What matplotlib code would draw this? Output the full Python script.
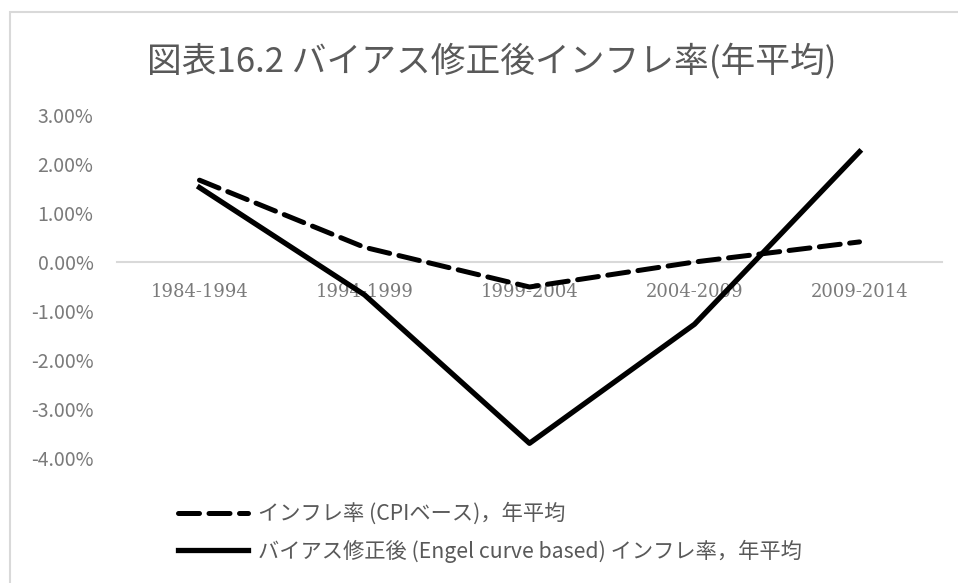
import matplotlib.pyplot as plt
from matplotlib.patches import Rectangle
from matplotlib.ticker import FuncFormatter

plt.rcParams['font.family'] = ['Noto Sans CJK JP', 'DejaVu Sans']

periods = ['1984-1994', '1994-1999', '1999-2004', '2004-2009', '2009-2014']
cpi_inflation = [1.67, 0.30, -0.51, 0.00, 0.41]
engel_inflation = [1.52, -0.67, -3.70, -1.27, 2.25]

label_cpi = 'インフレ率 (CPIベース)，年平均'
label_engel = 'バイアス修正後 (Engel curve based) インフレ率，年平均'
title = '図表16.2 バイアス修正後インフレ率(年平均)'

gray = '#595959'
light = '#7a7a7a'

fig = plt.figure(figsize=(9.58, 5.83), dpi=100)
fig.patches.append(Rectangle((10/958, -0.1), 1.2, 1 - 12/583 + 0.1,
                             transform=fig.transFigure, fill=False,
                             edgecolor='#d9d9d9', linewidth=1.5))

ax = fig.add_axes([117/958, 1 - 458/583, 825/958, 343/583])
x = range(len(periods))
ax.plot(x, cpi_inflation, color='black', lw=3.6, dashes=(4.2, 1.9),
        dash_capstyle='round', label=label_cpi)
ax.plot(x, engel_inflation, color='black', lw=3.8, label=label_engel)

ax.set_xlim(-0.5, len(periods) - 0.5)
ax.set_ylim(-4, 3)
ax.set_yticks([3, 2, 1, 0, -1, -2, -3, -4])
ax.yaxis.set_major_formatter(FuncFormatter(lambda v, p: f'{v:.2f}%'))
ax.set_xticks(list(x))
ax.set_xticklabels(periods)

for s in ['top', 'right', 'left']:
    ax.spines[s].set_visible(False)
ax.spines['bottom'].set_position(('data', 0))
ax.spines['bottom'].set_color('#d9d9d9')
ax.spines['bottom'].set_linewidth(1.5)
ax.spines['bottom'].set_zorder(0)
ax.tick_params(axis='x', length=0, pad=15, labelsize=13, labelcolor=light)
ax.tick_params(axis='y', length=0, pad=17, labelsize=14, labelcolor=light)
for lab in ax.get_xticklabels():
    lab.set_fontfamily('DejaVu Serif')
    lab.set_fontsize(13)

fig.text(492/958, 1 - 62/583, title, ha='center', va='center',
         fontsize=25, color=gray)

fig.legend(loc='lower left', bbox_to_anchor=(159/958, 1 - 582/583),
           frameon=False, fontsize=15.3, labelcolor=gray,
           handlelength=3.3, handletextpad=0.45, labelspacing=0.68)

plt.savefig('out.png', dpi=100)
